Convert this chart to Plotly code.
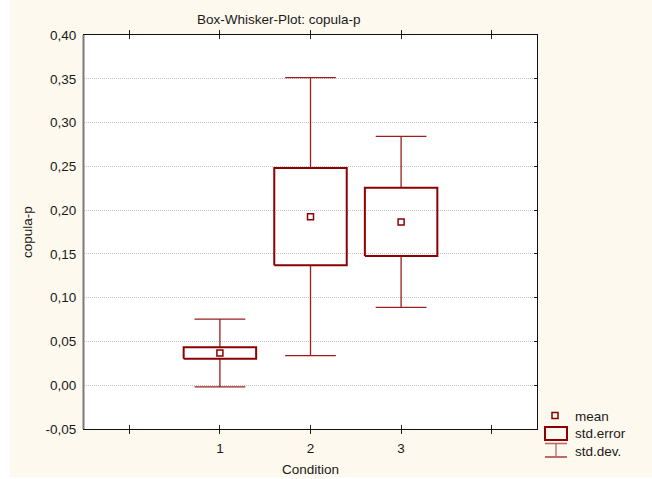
import plotly.graph_objects as go

# ---- data ----
categories = ["1", "2", "3"]
positions = [1, 2, 3]
means = [0.0368, 0.1925, 0.1865]
std_error = [0.0065, 0.0556, 0.0390]
std_dev = [0.0387, 0.1588, 0.0977]
y_tickvals = [-0.05, 0.0, 0.05, 0.10, 0.15, 0.20, 0.25, 0.30, 0.35, 0.40]
y_ticktext = ["-0,05", "0,00", "0,05", "0,10", "0,15", "0,20", "0,25", "0,30", "0,35", "0,40"]
x_tickvals = [0, 1, 2, 3, 4]
x_ticktext = ["", "1", "2", "3", ""]
legend_labels = ["mean", "std.error", "std.dev."]

DARK = "#8B0000"
WHISK = "#9A1E1E"
CREAM = "#FEF9EE"
FONT = "Liberation Sans, Arial, sans-serif"
TXT = "#1a1a1a"
FS = 13.5

W, H = 652, 479
L, R, T, B = 84, 115, 35, 50
PW, PH = W - L - R, H - T - B


def px(x):
    return (x - L) / PW


def py(y):
    return (H - B - y) / PH


box_half = 0.40
cap_half = 0.28

# whiskers
wx, wy = [], []
for p, m, se, sd in zip(positions, means, std_error, std_dev):
    wx += [p, p, None, p - cap_half, p + cap_half, None,
           p, p, None, p - cap_half, p + cap_half, None]
    wy += [m + se, m + sd, None, m + sd, m + sd, None,
           m - se, m - sd, None, m - sd, m - sd, None]

# boxes
bx, by = [], []
for p, m, se in zip(positions, means, std_error):
    bx += [p - box_half, p + box_half, p + box_half, p - box_half, p - box_half, None]
    by += [m - se, m - se, m + se, m + se, m - se, None]

fig = go.Figure()
fig.add_trace(go.Scatter(x=wx, y=wy, mode="lines",
                         line=dict(color=WHISK, width=1.3),
                         hoverinfo="skip", showlegend=False))
fig.add_trace(go.Scatter(x=bx, y=by, mode="lines",
                         line=dict(color=DARK, width=2),
                         hoverinfo="skip", showlegend=False))
fig.add_trace(go.Scatter(x=positions, y=means, mode="markers",
                         marker=dict(symbol="square-open", size=6,
                                     color=DARK, line=dict(width=1.5, color=DARK)),
                         showlegend=False))
# invisible trace for right-side tick axis
fig.add_trace(go.Scatter(x=[positions[0]], y=[means[0]], yaxis="y2", mode="markers",
                         marker=dict(opacity=0), hoverinfo="skip", showlegend=False))

shapes = []
# white strips outside the cream panel
shapes.append(dict(type="rect", xref="paper", yref="paper",
                   x0=px(-5), x1=px(10), y0=py(-5), y1=py(490),
                   fillcolor="white", line=dict(width=0), layer="below"))
shapes.append(dict(type="rect", xref="paper", yref="paper",
                   x0=px(-5), x1=px(660), y0=py(477), y1=py(490),
                   fillcolor="white", line=dict(width=0), layer="below"))
# left axis line (grey, thicker)
shapes.append(dict(type="line", xref="paper", yref="paper",
                   x0=px(83.5), x1=px(83.5), y0=0, y1=1,
                   line=dict(color="#7a7a7a", width=2)))
# legend icons
shapes.append(dict(type="rect", xref="paper", yref="paper",
                   x0=px(552), x1=px(558), y0=py(418.5), y1=py(412.5),
                   line=dict(color=DARK, width=1.5), fillcolor="rgba(0,0,0,0)"))
shapes.append(dict(type="rect", xref="paper", yref="paper",
                   x0=px(545), x1=px(567), y0=py(440), y1=py(427),
                   line=dict(color=DARK, width=2), fillcolor="rgba(0,0,0,0)"))
shapes.append(dict(type="line", xref="paper", yref="paper",
                   x0=px(545), x1=px(567), y0=py(443.5), y1=py(443.5),
                   line=dict(color="#B86A6A", width=1.6)))
shapes.append(dict(type="line", xref="paper", yref="paper",
                   x0=px(545), x1=px(567), y0=py(457), y1=py(457),
                   line=dict(color=WHISK, width=1.3)))
shapes.append(dict(type="line", xref="paper", yref="paper",
                   x0=px(556), x1=px(556), y0=py(443.5), y1=py(457),
                   line=dict(color="#B86A6A", width=1.3)))

annotations = [
    dict(text="Box-Whisker-Plot: copula-p", xref="paper", yref="paper",
         x=px(278.5), y=py(19), xanchor="center", yanchor="middle",
         showarrow=False, font=dict(size=FS, color=TXT, family=FONT)),
    dict(text="Condition", xref="paper", yref="paper",
         x=px(310.5), y=py(469), xanchor="center", yanchor="middle",
         showarrow=False, font=dict(size=FS, color=TXT, family=FONT)),
    dict(text="copula-p", xref="paper", yref="paper", textangle=-90,
         x=px(27), y=py(232), xanchor="center", yanchor="middle",
         showarrow=False, font=dict(size=FS, color=TXT, family=FONT)),
]
for lab, yy in zip(legend_labels, [416, 433.5, 451]):
    annotations.append(dict(text=lab, xref="paper", yref="paper",
                            x=px(573), y=py(yy), xanchor="left", yanchor="middle",
                            showarrow=False, font=dict(size=FS, color=TXT, family=FONT)))

fig.update_layout(
    width=W, height=H,
    margin=dict(l=L, r=R, t=T, b=B),
    paper_bgcolor=CREAM, plot_bgcolor="white",
    font=dict(family=FONT, size=FS, color=TXT),
    showlegend=False,
    shapes=shapes, annotations=annotations,
    xaxis=dict(range=[-0.5, 4.5], tickvals=x_tickvals, ticktext=x_ticktext,
               ticks="inside", ticklen=4, tickcolor="#222", tickwidth=1,
               showline=True, linecolor="#111", linewidth=1, mirror="allticks",
               showgrid=False, zeroline=False, ticklabelstandoff=7),
    yaxis=dict(range=[-0.05, 0.40], tickvals=y_tickvals, ticktext=y_ticktext,
               ticks="", showline=True, linecolor="#111", linewidth=1, mirror=True,
               showgrid=True, gridcolor="#c4c4c4", griddash="1px,1px", gridwidth=1,
               zeroline=False, ticklabelstandoff=4),
    yaxis2=dict(range=[-0.05, 0.40], tickvals=y_tickvals, overlaying="y", side="right",
                ticks="inside", ticklen=3, tickcolor="#222", showticklabels=False,
                showgrid=False, zeroline=False, showline=False),
)

fig.write_html("out.html")
